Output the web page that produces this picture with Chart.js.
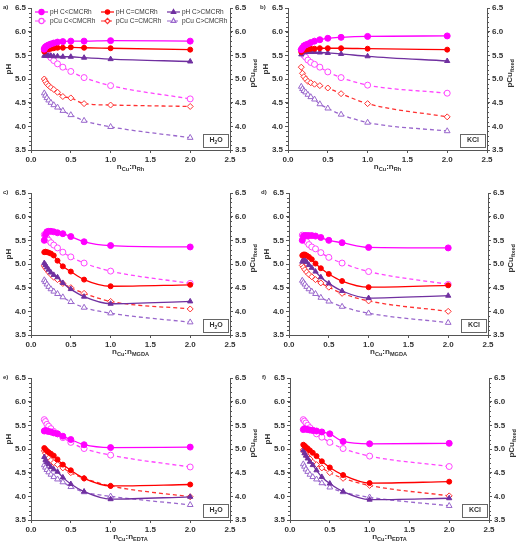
<!DOCTYPE html>
<html>
<head>
<meta charset="utf-8">
<script src="https://cdn.jsdelivr.net/npm/chart.js@4.4.0/dist/chart.umd.min.js"></script>
<style>
  body { margin: 0; background: #fff; width: 518px; height: 550px; position: relative; overflow: hidden; }
  canvas { position: absolute; }
</style>
</head>
<body>
<canvas id="pa" width="259" height="180" style="left:0px;top:0px"></canvas>
<canvas id="pb" width="259" height="180" style="left:257px;top:0px"></canvas>
<canvas id="pc" width="259" height="180" style="left:0px;top:185px"></canvas>
<canvas id="pd" width="259" height="180" style="left:258px;top:185px"></canvas>
<canvas id="pe" width="259" height="180" style="left:0px;top:370px"></canvas>
<canvas id="pf" width="259" height="180" style="left:259px;top:370px"></canvas>
<script>
// nCu : nLigand ratios (shared by every panel)
const ratio = [0.167, 0.182, 0.2, 0.222, 0.25, 0.286, 0.333, 0.4, 0.5, 0.667, 1.0, 2.0];

const seriesNames = ['pH C<CMCRh', 'pH C=CMCRh', 'pH C>CMCRh', 'pCu C<CMCRh', 'pCu C=CMCRh', 'pCu C>CMCRh'];

// a) Rh, H2O
const aPhBelow  = [5.63, 5.68, 5.70, 5.72, 5.74, 5.76, 5.78, 5.79, 5.80, 5.80, 5.81, 5.80];
const aPhAt     = [5.58, 5.62, 5.63, 5.63, 5.64, 5.65, 5.66, 5.66, 5.67, 5.66, 5.65, 5.62];
const aPhAbove  = [5.49, 5.49, 5.50, 5.49, 5.49, 5.48, 5.48, 5.47, 5.47, 5.45, 5.42, 5.37];
const aPcuBelow = [5.65, 5.60, 5.55, 5.50, 5.45, 5.39, 5.32, 5.25, 5.16, 5.03, 4.86, 4.58];
const aPcuAt    = [5.00, 4.95, 4.90, 4.86, 4.82, 4.78, 4.72, 4.63, 4.60, 4.48, 4.45, 4.42];
const aPcuAbove = [4.70, 4.65, 4.60, 4.55, 4.50, 4.45, 4.40, 4.33, 4.24, 4.12, 3.99, 3.76];

// b) Rh, KCl
const bPhBelow  = [5.62, 5.66, 5.70, 5.72, 5.74, 5.77, 5.80, 5.83, 5.86, 5.88, 5.90, 5.91];
const bPhAt     = [5.57, 5.62, 5.62, 5.62, 5.63, 5.64, 5.64, 5.65, 5.65, 5.65, 5.64, 5.62];
const bPhAbove  = [5.52, 5.56, 5.57, 5.57, 5.57, 5.57, 5.57, 5.56, 5.55, 5.53, 5.48, 5.38];
const bPcuBelow = [5.62, 5.56, 5.50, 5.46, 5.40, 5.35, 5.31, 5.25, 5.15, 5.03, 4.87, 4.70];
const bPcuAt    = [5.25, 5.12, 5.05, 5.00, 4.95, 4.92, 4.89, 4.86, 4.81, 4.69, 4.48, 4.20];
const bPcuAbove = [4.84, 4.79, 4.75, 4.72, 4.67, 4.62, 4.57, 4.47, 4.38, 4.25, 4.08, 3.90];

// c) MGDA, H2O
const cPhBelow  = [5.50, 5.62, 5.68, 5.69, 5.69, 5.68, 5.66, 5.64, 5.58, 5.47, 5.39, 5.36];
const cPhAt     = [5.25, 5.26, 5.25, 5.24, 5.22, 5.18, 5.07, 4.95, 4.84, 4.67, 4.53, 4.56];
const cPhAbove  = [5.02, 4.98, 4.93, 4.88, 4.82, 4.77, 4.72, 4.60, 4.47, 4.31, 4.16, 4.21];
const cPcuBelow = [5.62, 5.58, 5.55, 5.50, 5.45, 5.40, 5.34, 5.25, 5.15, 5.02, 4.85, 4.59];
const cPcuAt    = [4.96, 4.92, 4.88, 4.83, 4.78, 4.72, 4.67, 4.59, 4.50, 4.38, 4.21, 4.05];
const cPcuAbove = [4.66, 4.62, 4.57, 4.52, 4.47, 4.42, 4.37, 4.30, 4.20, 4.08, 3.96, 3.77];

// d) MGDA, KCl
const dPhBelow  = [5.50, 5.59, 5.60, 5.60, 5.60, 5.60, 5.59, 5.56, 5.50, 5.45, 5.35, 5.34];
const dPhAt     = [5.18, 5.20, 5.20, 5.18, 5.15, 5.10, 5.01, 4.91, 4.79, 4.64, 4.51, 4.55];
const dPhAbove  = [5.05, 5.10, 5.08, 5.04, 4.98, 4.92, 4.84, 4.72, 4.59, 4.43, 4.28, 4.33];
const dPcuBelow = [5.61, 5.56, 5.52, 5.47, 5.41, 5.36, 5.32, 5.24, 5.14, 5.02, 4.84, 4.57];
const dPcuAt    = [4.97, 4.93, 4.88, 4.83, 4.78, 4.73, 4.67, 4.60, 4.51, 4.38, 4.22, 4.00];
const dPcuAbove = [4.65, 4.61, 4.57, 4.52, 4.47, 4.42, 4.37, 4.29, 4.21, 4.10, 3.96, 3.76];

// e) EDTA, H2O
const ePhBelow  = [5.38, 5.39, 5.38, 5.37, 5.36, 5.34, 5.32, 5.27, 5.20, 5.09, 5.03, 5.04];
const ePhAt     = [5.02, 4.99, 4.96, 4.93, 4.90, 4.86, 4.78, 4.67, 4.55, 4.38, 4.22, 4.25];
const ePhAbove  = [4.83, 4.77, 4.72, 4.68, 4.62, 4.57, 4.52, 4.40, 4.26, 4.10, 3.94, 3.99];
const ePcuBelow = [5.62, 5.58, 5.52, 5.48, 5.43, 5.37, 5.32, 5.24, 5.14, 5.01, 4.87, 4.62];
const ePcuAt    = [4.96, 4.91, 4.86, 4.81, 4.76, 4.71, 4.67, 4.60, 4.50, 4.38, 4.22, 3.99];
const ePcuAbove = [4.66, 4.61, 4.56, 4.51, 4.46, 4.41, 4.36, 4.30, 4.20, 4.09, 4.00, 3.82];

// f) EDTA, KCl
const fPhBelow  = [5.41, 5.43, 5.42, 5.41, 5.40, 5.39, 5.38, 5.36, 5.32, 5.16, 5.11, 5.12];
const fPhAt     = [5.09, 5.07, 5.04, 5.01, 4.97, 4.92, 4.85, 4.74, 4.61, 4.45, 4.28, 4.31];
const fPhAbove  = [4.97, 4.91, 4.86, 4.80, 4.73, 4.66, 4.55, 4.41, 4.27, 4.10, 3.93, 3.96];
const fPcuBelow = [5.62, 5.59, 5.55, 5.50, 5.45, 5.40, 5.32, 5.25, 5.14, 5.01, 4.85, 4.63];
const fPcuAt    = [4.98, 4.94, 4.89, 4.84, 4.79, 4.72, 4.67, 4.60, 4.50, 4.38, 4.23, 4.01];
const fPcuAbove = [4.68, 4.63, 4.57, 4.52, 4.46, 4.41, 4.36, 4.28, 4.19, 4.09, 3.98, 3.80];

const panels = [
  { id: 'pa', tag: 'a)', medium: 'H2O', ligand: 'Rh',   legend: true,  series: [aPhBelow, aPhAt, aPhAbove, aPcuBelow, aPcuAt, aPcuAbove] },
  { id: 'pb', tag: 'b)', medium: 'KCl', ligand: 'Rh',   legend: false, series: [bPhBelow, bPhAt, bPhAbove, bPcuBelow, bPcuAt, bPcuAbove] },
  { id: 'pc', tag: 'c)', medium: 'H2O', ligand: 'MGDA', legend: false, series: [cPhBelow, cPhAt, cPhAbove, cPcuBelow, cPcuAt, cPcuAbove] },
  { id: 'pd', tag: 'd)', medium: 'KCl', ligand: 'MGDA', legend: false, series: [dPhBelow, dPhAt, dPhAbove, dPcuBelow, dPcuAt, dPcuAbove] },
  { id: 'pe', tag: 'e)', medium: 'H2O', ligand: 'EDTA', legend: false, series: [ePhBelow, ePhAt, ePhAbove, ePcuBelow, ePcuAt, ePcuAbove] },
  { id: 'pf', tag: 'f)', medium: 'KCl', ligand: 'EDTA', legend: false, series: [fPhBelow, fPhAt, fPhAbove, fPcuBelow, fPcuAt, fPcuAbove] }
];

const FONT = '"Liberation Sans", Arial, sans-serif';
const AXIS = '#555';
const TXT = '#333';

// look of the six series
const styles = [
  { color: '#ff00ff', point: 'circle',   r: 3,   fill: '#ff00ff', dash: [],     axis: 'y'  },
  { color: '#ff0000', point: 'circle',   r: 2.5, fill: '#ff0000', dash: [],     axis: 'y'  },
  { color: '#7030a0', point: 'triangle', r: 3,   fill: '#7030a0', dash: [],     axis: 'y'  },
  { color: '#ff44ff', point: 'circle',   r: 3,   fill: '#ffffff', dash: [4, 3], axis: 'y2' },
  { color: '#ff3030', point: 'rectRot',  r: 3,   fill: '#ffffff', dash: [4, 3], axis: 'y2' },
  { color: '#9966cc', point: 'triangle', r: 3.3, fill: '#ffffff', dash: [4, 3], axis: 'y2' }
];

// text with subscripts: parts = [[text, isSub], ...]
function richWidth(ctx, parts, size, weight) {
  let w = 0;
  parts.forEach(([t, sub]) => {
    ctx.font = weight + ' ' + (sub ? size * 0.7 : size) + 'px ' + FONT;
    w += ctx.measureText(t).width;
  });
  return w;
}
function richText(ctx, parts, x, y, size, weight) {
  let cx = x - richWidth(ctx, parts, size, weight) / 2;
  ctx.textBaseline = 'middle';
  ctx.textAlign = 'left';
  parts.forEach(([t, sub]) => {
    ctx.font = weight + ' ' + (sub ? size * 0.7 : size) + 'px ' + FONT;
    ctx.fillText(t, cx, sub ? y + size * 0.3 : y);
    cx += ctx.measureText(t).width;
  });
}
function mediumParts(m) {
  return m === 'H2O' ? [['H', false], ['2', true], ['O', false]] : [[m, false]];
}

const decor = {
  id: 'decor',
  afterDraw(chart, args, opts) {
    const ctx = chart.ctx;
    const a = chart.chartArea;
    ctx.save();
    ctx.fillStyle = TXT;

    // minor ticks on both y axes
    ['y', 'y2'].forEach(k => {
      const s = chart.scales[k];
      ctx.strokeStyle = AXIS;
      ctx.lineWidth = 1;
      for (let v = 3.5; v <= 6.51; v += 0.1) {
        const py = Math.round(s.getPixelForValue(v)) + 0.5;
        const x0 = k === 'y' ? a.left : a.right;
        ctx.beginPath();
        ctx.moveTo(x0, py);
        ctx.lineTo(k === 'y' ? x0 - 2 : x0 + 2, py);
        ctx.stroke();
      }
    });

    // panel letter
    ctx.font = 'bold 6px ' + FONT;
    ctx.textAlign = 'left';
    ctx.textBaseline = 'middle';
    ctx.fillText(opts.tag, 3, a.top - 1);

    // axis titles
    richText(ctx, [['n', false], ['Cu', true], [':n', false], [opts.ligand, true]],
      (a.left + a.right) / 2, a.bottom + 17, 8, 'bold');
    ctx.save();
    ctx.translate(9, a.top + (a.bottom - a.top) * 0.43);
    ctx.rotate(-Math.PI / 2);
    richText(ctx, [['pH', false]], 0, 0, 8, 'bold');
    ctx.restore();
    ctx.save();
    ctx.translate(chart.width - 6, a.top + (a.bottom - a.top) * 0.46);
    ctx.rotate(-Math.PI / 2);
    richText(ctx, [['pCu', false], ['fixed', true]], 0, 0, 8, 'bold');
    ctx.restore();

    // medium box
    const bw = 25, bh = 13;
    const bx = a.right - bw - 2, by = a.bottom - bh - 3;
    ctx.fillStyle = '#fff';
    ctx.fillRect(bx, by, bw, bh);
    ctx.strokeStyle = '#666';
    ctx.lineWidth = 1;
    ctx.strokeRect(bx + 0.5, by + 0.5, bw, bh);
    ctx.fillStyle = TXT;
    richText(ctx, mediumParts(opts.medium), bx + bw / 2 + 0.5, by + bh / 2, 7, 'bold');

    // legend inside the plot (panel a only)
    if (opts.legend) {
      chart.data.datasets.forEach((ds, i) => {
        const col = i % 3, row = Math.floor(i / 3);
        const lx = a.left + 4 + col * 66;
        const ly = a.top + 4 + row * 9;
        ctx.strokeStyle = ds.borderColor;
        ctx.lineWidth = 1.2;
        ctx.setLineDash(ds.borderDash);
        ctx.beginPath();
        ctx.moveTo(lx, ly);
        ctx.lineTo(lx + 13, ly);
        ctx.stroke();
        ctx.setLineDash([]);
        ctx.fillStyle = ds.pointBackgroundColor;
        Chart.helpers.drawPoint(ctx, { pointStyle: ds.pointStyle, radius: ds.pointRadius * 0.85, rotation: 0, borderWidth: 1 }, lx + 6.5, ly);
        ctx.fillStyle = TXT;
        ctx.font = '6.5px ' + FONT;
        ctx.textAlign = 'left';
        ctx.textBaseline = 'middle';
        ctx.fillText(ds.label, lx + 15, ly + 0.5);
      });
    }
    ctx.restore();
  }
};

function yAxis(pos, width) {
  return {
    type: 'linear', position: pos, min: 3.5, max: 6.5,
    ticks: { stepSize: 0.5, callback: v => v.toFixed(1), color: TXT, padding: 2,
             font: { family: FONT, size: 8, weight: 'bold' } },
    grid: { drawOnChartArea: false, tickLength: 3, color: AXIS },
    border: { color: AXIS, width: 1 },
    afterFit: s => { s.width = width; }
  };
}

panels.forEach(p => {
  const datasets = p.series.map((vals, i) => {
    const st = styles[i];
    return {
      label: seriesNames[i],
      data: ratio.map((x, j) => ({ x: x, y: vals[j] })),
      yAxisID: st.axis,
      borderColor: st.color,
      borderWidth: 1.3,
      borderDash: st.dash,
      pointStyle: st.point,
      pointRadius: st.r,
      pointBorderWidth: 1,
      pointBorderColor: st.color,
      pointBackgroundColor: st.fill,
      cubicInterpolationMode: 'monotone',
      fill: false
    };
  });
  // draw pH lines on top of pCu lines
  datasets.forEach((d, i) => { d.order = i < 3 ? 0 : 1; });

  new Chart(document.getElementById(p.id), {
    type: 'line',
    data: { datasets },
    options: {
      responsive: false,
      animation: false,
      layout: { padding: { top: 8, left: 0, right: 0, bottom: 0 } },
      plugins: {
        legend: { display: false },
        tooltip: { enabled: false },
        decor: { tag: p.tag, medium: p.medium, ligand: p.ligand, legend: p.legend }
      },
      scales: {
        x: {
          type: 'linear', min: 0, max: 2.5,
          ticks: { stepSize: 0.5, callback: v => v.toFixed(1), color: TXT, padding: 2,
                   font: { family: FONT, size: 8, weight: 'bold' } },
          grid: { drawOnChartArea: false, tickLength: 3, color: AXIS },
          border: { color: AXIS, width: 1 },
          afterFit: s => { s.height = 30; }
        },
        y: yAxis('left', 31),
        y2: yAxis('right', 29)
      }
    },
    plugins: [decor]
  });
});
</script>
</body>
</html>
